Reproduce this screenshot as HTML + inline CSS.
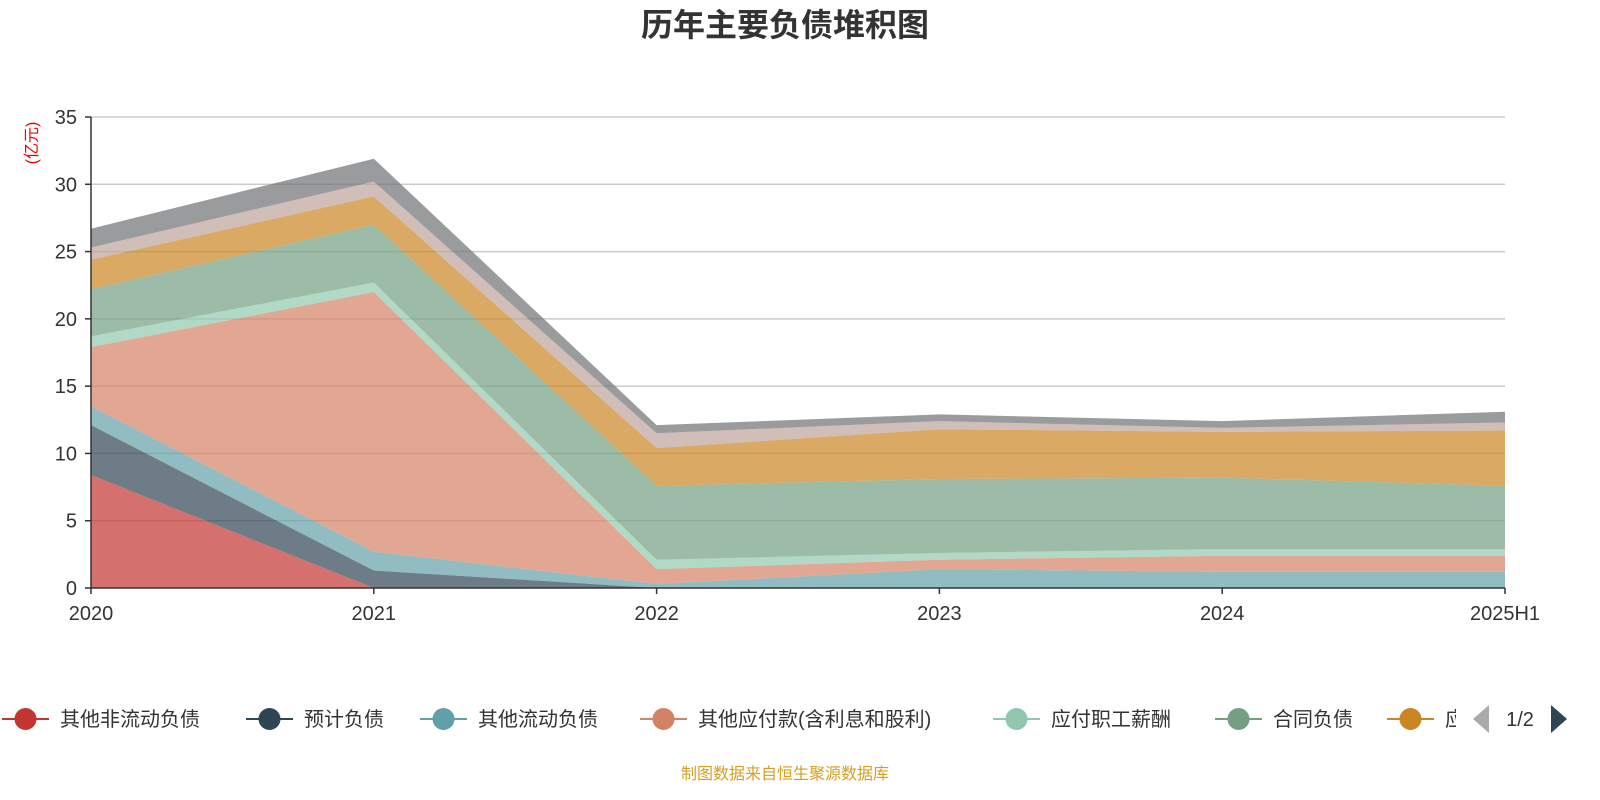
<!DOCTYPE html>
<html><head><meta charset="utf-8">
<style>
body{margin:0;background:#fff;width:1600px;height:800px;overflow:hidden;font-family:"Liberation Sans","Noto Sans CJK SC",sans-serif;}
svg{display:block}
text{font-family:"Liberation Sans","Noto Sans CJK SC",sans-serif;}
</style></head>
<body>
<svg id="chart" width="1600" height="800" xmlns="http://www.w3.org/2000/svg">
<text x="785" y="36" text-anchor="middle" font-size="32" font-weight="bold" fill="#333">历年主要负债堆积图</text>
<text transform="translate(37,143) rotate(-90)" text-anchor="middle" font-size="16" fill="#e00">(亿元)</text>
<g id="grid"></g>
<g id="areas"></g>
<g id="axes"></g>
<g id="legend"></g>
<text x="785" y="779" text-anchor="middle" font-size="16" fill="#d4a020">制图数据来自恒生聚源数据库</text>
</svg>
<script>
const categories=["2020","2021","2022","2023","2024","2025H1"];
const seriesNames=["其他非流动负债","预计负债","其他流动负债","其他应付款(含利息和股利)","应付职工薪酬","合同负债","应付账款","应交税费","短期借款"];
const s1=[8.4,0,0,0,0,0];
const s2=[3.7,1.3,0,0,0,0];
const s3=[1.4,1.4,0.3,1.4,1.2,1.2];
const s4=[4.4,19.3,1.1,0.7,1.2,1.2];
const s5=[0.8,0.7,0.7,0.5,0.5,0.5];
const s6=[3.5,4.3,5.5,5.5,5.3,4.7];
const s7=[2.2,2.1,2.8,3.7,3.4,4.1];
const s8=[0.9,1.1,1.1,0.6,0.3,0.6];
const s9=[1.4,1.7,0.6,0.5,0.5,0.8];
const seriesValues=[s1,s2,s3,s4,s5,s6,s7,s8,s9];
const yTicks=[0,5,10,15,20,25,30,35];
const colors=["#c23531","#2f4554","#61a0a8","#d48265","#91c7ae","#749f83","#ca8622","#bda29a","#6e7074"];
const NS="http://www.w3.org/2000/svg";
const x0=91,x1=1505,y0=588,y1=117,yMax=35;
const xs=i=>x0+i*(x1-x0)/(categories.length-1);
const ys=v=>y0-v*(y0-y1)/yMax;
function mk(tag,attrs,parent,txt){const e=document.createElementNS(NS,tag);for(const k in attrs)e.setAttribute(k,attrs[k]);if(txt!==undefined)e.textContent=txt;parent.appendChild(e);return e;}
const grid=document.getElementById('grid'),areas=document.getElementById('areas'),axes=document.getElementById('axes'),legend=document.getElementById('legend');
yTicks.forEach(t=>{
  if(t>0){const l=mk('line',{x1:x0,x2:x1,y1:ys(t),y2:ys(t),stroke:'#ccc','stroke-width':1.5},grid);
  
  }
  const tk=mk('line',{x1:x0-6,x2:x0,y1:ys(t),y2:ys(t),stroke:'#333','stroke-width':1.5},axes);
  
  
  const tl=mk('text',{x:x0-14,y:ys(t)+7,'text-anchor':'end','font-size':20,fill:'#333'},axes,String(t));
  
  
});
let base=categories.map(()=>0);
seriesValues.forEach((vals,si)=>{
  const top=base.map((b,i)=>b+vals[i]);
  let d='M'+top.map((v,i)=>xs(i)+','+ys(v)).join(' L');
  for(let i=categories.length-1;i>=0;i--)d+=' L'+xs(i)+','+ys(base[i]);
  d+=' Z';
  const p=mk('path',{d:d,fill:colors[si],'fill-opacity':0.7},areas);
  
  
  base=top;
});
const ax=mk('line',{x1:x0,x2:x0,y1:y1,y2:y0,stroke:'#333','stroke-width':1.5},axes);


const xa=mk('line',{x1:x0,x2:x1,y1:y0,y2:y0,stroke:'#333','stroke-width':1.5},axes);


categories.forEach((c,i)=>{
  const tk=mk('line',{x1:xs(i),x2:xs(i),y1:y0,y2:y0+6,stroke:'#333','stroke-width':1.5},axes);
  
  
  const tl=mk('text',{x:xs(i),y:620,'text-anchor':'middle','font-size':20,fill:'#333'},axes,c);
  
  
});
// legend
const legX=[2,246,420,640,993,1215,1387];
const clip=mk('clipPath',{id:'legclip'},legend);mk('rect',{x:0,y:690,width:1456,height:60},clip);
const lg=mk('g',{'clip-path':'url(#legclip)'},legend);
for(let i=0;i<7;i++){
  const g=mk('g',{},lg);
  
  
  const x=legX[i];
  mk('line',{x1:x,x2:x+47,y1:719,y2:719,stroke:colors[i],'stroke-width':2},g);
  mk('circle',{cx:x+23.5,cy:719,r:11,fill:colors[i]},g);
  mk('text',{x:x+58,y:726,'font-size':20,fill:'#333'},g,seriesNames[i]);
}
const pl=mk('path',{d:'M1489,705 L1489,733 L1473,719 Z',fill:'#aaa'},legend);


const pt=mk('text',{x:1520,y:726,'text-anchor':'middle','font-size':20,fill:'#333'},legend,'1/2');


const pn=mk('path',{d:'M1551,705 L1551,733 L1567,719 Z',fill:'#2f4554'},legend);


</script>
</body></html>
